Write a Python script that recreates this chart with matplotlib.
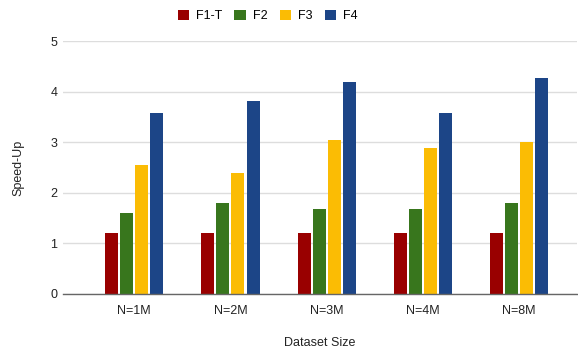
import matplotlib
matplotlib.use('Agg')
import matplotlib.pyplot as plt
import numpy as np

plt.rcParams['font.family'] = ['Liberation Sans', 'DejaVu Sans']

categories = ['N=1M', 'N=2M', 'N=3M', 'N=4M', 'N=8M']
series_names = ['F1-T', 'F2', 'F3', 'F4']
f1t = [1.2, 1.2, 1.2, 1.2, 1.2]
f2 = [1.6, 1.8, 1.67, 1.67, 1.8]
f3 = [2.55, 2.4, 3.04, 2.88, 3.0]
f4 = [3.58, 3.82, 4.19, 3.58, 4.27]
colors = ['#990000', '#38761d', '#fbbc04', '#1c4587']
yticks = [0, 1, 2, 3, 4, 5]

fig = plt.figure(figsize=(5.78, 3.5), dpi=100)
ax = fig.add_axes([63 / 578, 56 / 350, 514 / 578, 253 / 350])

x = np.arange(len(categories))
pitch = 0.156
width = 0.135
for i, (vals, name) in enumerate(zip([f1t, f2, f3, f4], series_names)):
    ax.bar(x + (i - 1.5) * pitch, vals, width, color=colors[i], label=name, zorder=3)

ax.set_xlim(-0.74, 4.6)
ax.set_ylim(0, 5)
ax.set_yticks(yticks)
ax.set_xticks(x)
ax.set_xticklabels(categories)
ax.tick_params(length=0, labelsize=9, colors='#222222')
ax.tick_params(axis='y', pad=4)
ax.tick_params(axis='x', pad=8)
ax.grid(axis='y', color='#dddddd', linewidth=1, zorder=0)
for s in ['top', 'right', 'left']:
    ax.spines[s].set_visible(False)
ax.spines['bottom'].set_color('#666666')
ax.spines['bottom'].set_linewidth(1)
ax.spines['bottom'].set_zorder(4)

ax.set_ylabel('Speed-Up', fontsize=9, color='#222222', labelpad=19)
ax.set_xlabel('Dataset Size', fontsize=9, color='#222222', labelpad=14)

fig.legend(loc='upper center', bbox_to_anchor=(0.463, 1.005), ncol=4, frameon=False,
           fontsize=9, handlelength=0.9, handleheight=0.9, columnspacing=1.0,
           handletextpad=0.55)

fig.savefig('out.png', dpi=100)
